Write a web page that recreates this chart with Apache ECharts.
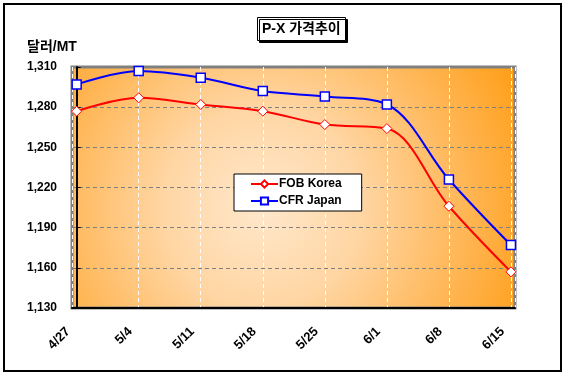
<!DOCTYPE html>
<html>
<head>
<meta charset="utf-8">
<script src="https://cdn.jsdelivr.net/npm/echarts@6/dist/echarts.min.js"></script>
<style>
html,body{margin:0;padding:0;background:#fff;}
#chart{width:567px;height:380px;}
</style>
</head>
<body>
<div id="chart"></div>
<script>
const categories = ['4/27', '5/4', '5/11', '5/18', '5/25', '6/1', '6/8', '6/15'];
const fobKorea = [1277, 1287, 1282, 1277, 1267, 1264, 1206, 1157];
const cfrJapan = [1297, 1307, 1302, 1292, 1288, 1282, 1226, 1177];
const yMin = 1130, yMax = 1310, yStep = 30;
const titleText = 'P-X 가격추이';
const unitText = '달러/MT';
const seriesNames = ['FOB Korea', 'CFR Japan'];

const FONT = '"Liberation Sans", Arial, "Noto Sans CJK KR", sans-serif';
const chart = echarts.init(document.getElementById('chart'), null, {renderer: 'canvas'});

function fmtNum(v) {
  return String(v).replace(/\B(?=(\d{3})+(?!\d))/g, ',');
}

const option = {
  animation: false,
  backgroundColor: '#fff',
  title: {
    text: titleText,
    left: 257, top: 17,
    padding: [5, 5, 5, 5],
    backgroundColor: '#fff',
    borderColor: '#000',
    borderWidth: 1,
    shadowColor: '#000',
    shadowBlur: 0,
    shadowOffsetX: 2,
    shadowOffsetY: 2,
    textStyle: {fontFamily: FONT, fontSize: 14, fontWeight: 'bold', color: '#000'}
  },
  legend: {
    orient: 'vertical',
    left: 234, top: 174,
    padding: [4, 20, 4, 16],
    itemGap: 5,
    itemWidth: 27, itemHeight: 9,
    backgroundColor: '#fff',
    borderColor: '#000',
    borderWidth: 1,
    textStyle: {fontFamily: FONT, fontSize: 12, fontWeight: 'bold', color: '#000', padding: [0, 0, 0, -4]},
    data: seriesNames
  },
  graphic: [
    {type: 'rect', shape: {x: 4, y: 4, width: 557, height: 367},
     style: {fill: null, stroke: '#000', lineWidth: 2}, z: 100, silent: true},
    {type: 'text', left: 27, top: 40,
     style: {text: unitText, font: 'bold 14px ' + FONT, fill: '#000'}}
  ],
  grid: {
    left: 72, right: 52, top: 67, bottom: 72,
    show: true,
    borderColor: '#808080', borderWidth: 3,
    backgroundColor: {
      type: 'radial', x: 0.43, y: 0.58, r: 1.15,
      colorStops: [
        {offset: 0, color: '#FFE8CC'},
        {offset: 0.35, color: '#FFD6A4'},
        {offset: 0.75, color: '#FFB450'},
        {offset: 1, color: '#FFA01C'}
      ]
    }
  },
  xAxis: {
    type: 'value',
    min: -0.075, max: 7.065,
    splitNumber: 7, minInterval: 1, maxInterval: 1,
    axisLine: {show: true, onZero: false, lineStyle: {color: '#000', width: 2}},
    axisTick: {show: false},
    splitLine: {show: true, lineStyle: {color: '#fff', type: [4, 3], width: 1}},
    axisLabel: {
      rotate: 45, margin: 13,
      padding: [0, 12, 0, 0],
      fontFamily: FONT, fontSize: 13, fontWeight: 'bold', color: '#000',
      showMinLabel: true, showMaxLabel: true,
      formatter: function (v) {
        const i = Math.round(v);
        return Math.abs(v - i) < 1e-6 && categories[i] ? categories[i] : '';
      }
    }
  },
  yAxis: {
    type: 'value',
    min: yMin, max: yMax, interval: yStep,
    axisLine: {show: true, lineStyle: {color: '#000', width: 2}},
    axisTick: {show: true, inside: true, length: 4, lineStyle: {color: '#000'}},
    splitLine: {show: true, lineStyle: {color: '#808080', type: [4, 3], width: 1}},
    axisLabel: {
      margin: 15,
      fontFamily: FONT, fontSize: 12, fontWeight: 'bold', color: '#000',
      formatter: fmtNum
    }
  },
  series: [
    {
      name: seriesNames[0], type: 'line', smooth: 0.35,
      data: fobKorea.map((v, i) => [i, v]),
      symbol: 'diamond', symbolSize: 10,
      lineStyle: {color: '#FF0000', width: 2},
      itemStyle: {color: '#fff', borderColor: '#FF0000', borderWidth: 1},
      z: 3
    },
    {
      name: seriesNames[1], type: 'line', smooth: 0.35,
      data: cfrJapan.map((v, i) => [i, v]),
      symbol: 'rect', symbolSize: 9,
      lineStyle: {color: '#0000FF', width: 2},
      itemStyle: {color: '#fff', borderColor: '#0000FF', borderWidth: 1.5},
      z: 4
    }
  ]
};
chart.setOption(option);
</script>
</body>
</html>
